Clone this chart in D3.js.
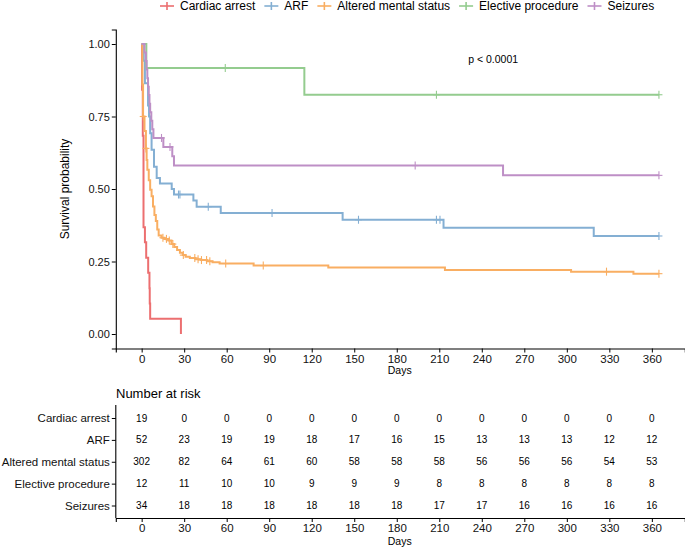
<!DOCTYPE html>
<html><head><meta charset="utf-8">
<script src="https://cdn.jsdelivr.net/npm/d3@7"></script>
<style>body{margin:0;background:#fff}svg{display:block;font-family:"Liberation Sans",Arial,sans-serif}</style>
</head><body><svg id="c" width="685" height="547"></svg>
<script>
// ---------- DATA ----------
const categories = ["Cardiac arrest", "ARF", "Altered mental status", "Elective procedure", "Seizures"];
const colors = ["#EC6F70", "#84AFD3", "#F9AE62", "#94CC8F", "#BE8FC6"];

const cardiacTimes = [0.3, 0.8, 1.3, 2.3, 3.2, 4.6, 5.5, 5.7, 6.0, 27.7];
const cardiacSurv  = [0.842, 0.684, 0.368, 0.316, 0.263, 0.211, 0.158, 0.105, 0.053, 0];
const cardiacCensor = [];

const arfTimes = [1.5, 2.3, 4.5, 5.2, 6, 7, 8.7, 10.6, 12.9, 21.2, 22.8, 36.5, 38.8, 55.8, 141.8, 213, 319];
const arfSurv  = [0.942, 0.865, 0.788, 0.75, 0.692, 0.635, 0.577, 0.538, 0.519, 0.5, 0.481, 0.46, 0.439, 0.417, 0.394, 0.366, 0.338];
const arfCensor = [26, 27, 47, 92, 153, 208, 210.5, 365];

const amsTimes = [0.5, 1, 2, 3, 3.5, 4, 5, 6, 7, 8, 9, 10, 11, 12, 14, 16, 19, 21, 23, 25, 27, 29, 31, 34, 38, 42, 46, 50, 55, 79, 131.7, 214, 303, 347];
const amsSurv  = [0.86, 0.75, 0.70, 0.64, 0.60, 0.566, 0.53, 0.497, 0.475, 0.44, 0.41, 0.39, 0.36, 0.34, 0.332, 0.328, 0.322, 0.31, 0.30, 0.29, 0.28, 0.272, 0.266, 0.262, 0.258, 0.255, 0.251, 0.247, 0.243, 0.236, 0.229, 0.221, 0.215, 0.208];
const amsCensor = [1.1, 3, 15, 17.5, 19.5, 22, 29.4, 37.5, 39.8, 42.2, 45.8, 48.1, 59.3, 85.8, 328, 365];

const electiveTimes = [3.3, 114.8];
const electiveSurv  = [0.917, 0.825];
const electiveCensor = [59, 208, 365];

const seizuresTimes = [2, 3, 3.5, 4, 4.5, 5, 5.5, 6, 6.8, 7.5, 8.3, 15.3, 21.6, 22.8, 255];
const seizuresSurv  = [0.971, 0.941, 0.912, 0.882, 0.853, 0.824, 0.794, 0.765, 0.735, 0.706, 0.676, 0.645, 0.613, 0.581, 0.547];
const seizuresCensor = [14, 20, 193, 365];

const endTimes = [27.7, 365, 365, 365, 365];

const riskTimes = [0, 30, 60, 90, 120, 150, 180, 210, 240, 270, 300, 330, 360];
const riskCardiac  = [19, 0, 0, 0, 0, 0, 0, 0, 0, 0, 0, 0, 0];
const riskARF      = [52, 23, 19, 19, 18, 17, 16, 15, 13, 13, 13, 12, 12];
const riskAMS      = [302, 82, 64, 61, 60, 58, 58, 58, 56, 56, 56, 54, 53];
const riskElective = [12, 11, 10, 10, 9, 9, 9, 8, 8, 8, 8, 8, 8];
const riskSeizures = [34, 18, 18, 18, 18, 18, 18, 17, 17, 16, 16, 16, 16];

const yTicks = [0, 0.25, 0.5, 0.75, 1];
const pText = "p < 0.0001";

// ---------- BUILD ----------
const series = [
  {times: cardiacTimes, surv: cardiacSurv, censor: cardiacCensor, risk: riskCardiac},
  {times: arfTimes, surv: arfSurv, censor: arfCensor, risk: riskARF},
  {times: amsTimes, surv: amsSurv, censor: amsCensor, risk: riskAMS},
  {times: electiveTimes, surv: electiveSurv, censor: electiveCensor, risk: riskElective},
  {times: seizuresTimes, surv: seizuresSurv, censor: seizuresCensor, risk: riskSeizures}
].map((s, i) => Object.assign(s, {name: categories[i], color: colors[i], end: endTimes[i]}));

const svg = d3.select("#c");
const x = d3.scaleLinear().domain([-18.25, 383.25]).range([115.8, 684.8]);
const y = d3.scaleLinear().domain([-0.05, 1.05]).range([348.5, 29.5]);

function survAt(s, t) {
  let v = 1;
  s.times.forEach((tt, i) => { if (tt <= t) v = s.surv[i]; });
  return v;
}

// axes main
const gx = svg.append("g").attr("transform", "translate(0,348.5)")
  .call(d3.axisBottom(x).tickValues(riskTimes).tickSizeOuter(0).tickSize(4).tickPadding(2));
const gy = svg.append("g").attr("transform", "translate(115.8,0)")
  .call(d3.axisLeft(y).tickValues(yTicks).tickFormat(d3.format(".2f")).tickSizeOuter(0).tickSize(4).tickPadding(2));
[gx, gy].forEach(g => {
  g.select(".domain").attr("stroke", "#000").attr("stroke-width", 1.1);
  g.selectAll(".tick line").attr("stroke", "#000").attr("stroke-width", 1);
  g.selectAll(".tick text").attr("fill", "#111").style("font-family", "Liberation Sans, Arial, sans-serif");
});
gx.selectAll(".tick text").style("font-size", "11.5px");
gy.selectAll(".tick text").style("font-size", "11px");

svg.append("text").attr("x", x(0) + (x(360) - x(0)) / 2 + 3).attr("y", 374)
  .attr("text-anchor", "middle").style("font-size", "10.5px").text("Days");
svg.append("text").attr("transform", "translate(69,189) rotate(-90)")
  .attr("text-anchor", "middle").style("font-size", "12px").text("Survival probability");

// curves
const line = d3.line().x(d => x(d[0])).y(d => y(d[1])).curve(d3.curveStepAfter);
series.forEach(s => {
  const pts = [[0, 1]].concat(s.times.map((t, i) => [t, s.surv[i]]));
  const last = pts[pts.length - 1];
  if (last[0] < s.end) pts.push([s.end, last[1]]);
  svg.append("path").attr("d", line(pts)).attr("fill", "none")
    .attr("stroke", s.color).attr("stroke-width", 2);
  s.censor.forEach(t => {
    const cx = x(t), cy = y(survAt(s, t));
    svg.append("line").attr("x1", cx).attr("x2", cx).attr("y1", cy - 4).attr("y2", cy + 4)
      .attr("stroke", s.color).attr("stroke-width", 1.1);
    svg.append("line").attr("x1", cx - 3.5).attr("x2", cx + 3.5).attr("y1", cy).attr("y2", cy)
      .attr("stroke", s.color).attr("stroke-width", 1.1);
  });
});

svg.append("text").attr("x", x(248)).attr("y", 63).attr("text-anchor", "middle")
  .style("font-size", "10.5px").text(pText);

// legend
let lx = 160;
series.forEach(s => {
  const g = svg.append("g");
  g.append("line").attr("x1", lx).attr("x2", lx + 14).attr("y1", 6).attr("y2", 6)
    .attr("stroke", s.color).attr("stroke-width", 1.6);
  g.append("line").attr("x1", lx + 7).attr("x2", lx + 7).attr("y1", 2).attr("y2", 10)
    .attr("stroke", s.color).attr("stroke-width", 1.6);
  const t = g.append("text").attr("x", lx + 20).attr("y", 10).style("font-size", "12px").text(s.name);
  lx = lx + 20 + t.node().getComputedTextLength() + 9;
});

// risk table
svg.append("text").attr("x", 116).attr("y", 397.5).style("font-size", "13px").text("Number at risk");
const yr = d3.scalePoint().domain(categories).range([418, 505.5]);
const gtx = svg.append("g").attr("transform", "translate(0,518)")
  .call(d3.axisBottom(x).tickValues(riskTimes).tickSizeOuter(0).tickSize(4).tickPadding(2));
const gty = svg.append("g").attr("transform", "translate(115.8,0)")
  .call(d3.axisLeft(yr).tickSizeOuter(0).tickSize(4).tickPadding(2));
gty.select(".domain").attr("d", "M0,405V518");
[gtx, gty].forEach(g => {
  g.select(".domain").attr("stroke", "#000").attr("stroke-width", 1.1);
  g.selectAll(".tick line").attr("stroke", "#000").attr("stroke-width", 1);
  g.selectAll(".tick text").attr("fill", "#111").style("font-family", "Liberation Sans, Arial, sans-serif").style("font-size", "11.5px");
});
gtx.selectAll(".tick text").style("font-size", "11.5px");
svg.append("text").attr("x", x(0) + (x(360) - x(0)) / 2 + 3).attr("y", 545)
  .attr("text-anchor", "middle").style("font-size", "10.5px").text("Days");

series.forEach(s => {
  s.risk.forEach((v, i) => {
    svg.append("text").attr("x", x(riskTimes[i])).attr("y", yr(s.name)).attr("dy", "0.35em")
      .attr("text-anchor", "middle").style("font-size", "10px").text(v);
  });
});
</script>
</body></html>
